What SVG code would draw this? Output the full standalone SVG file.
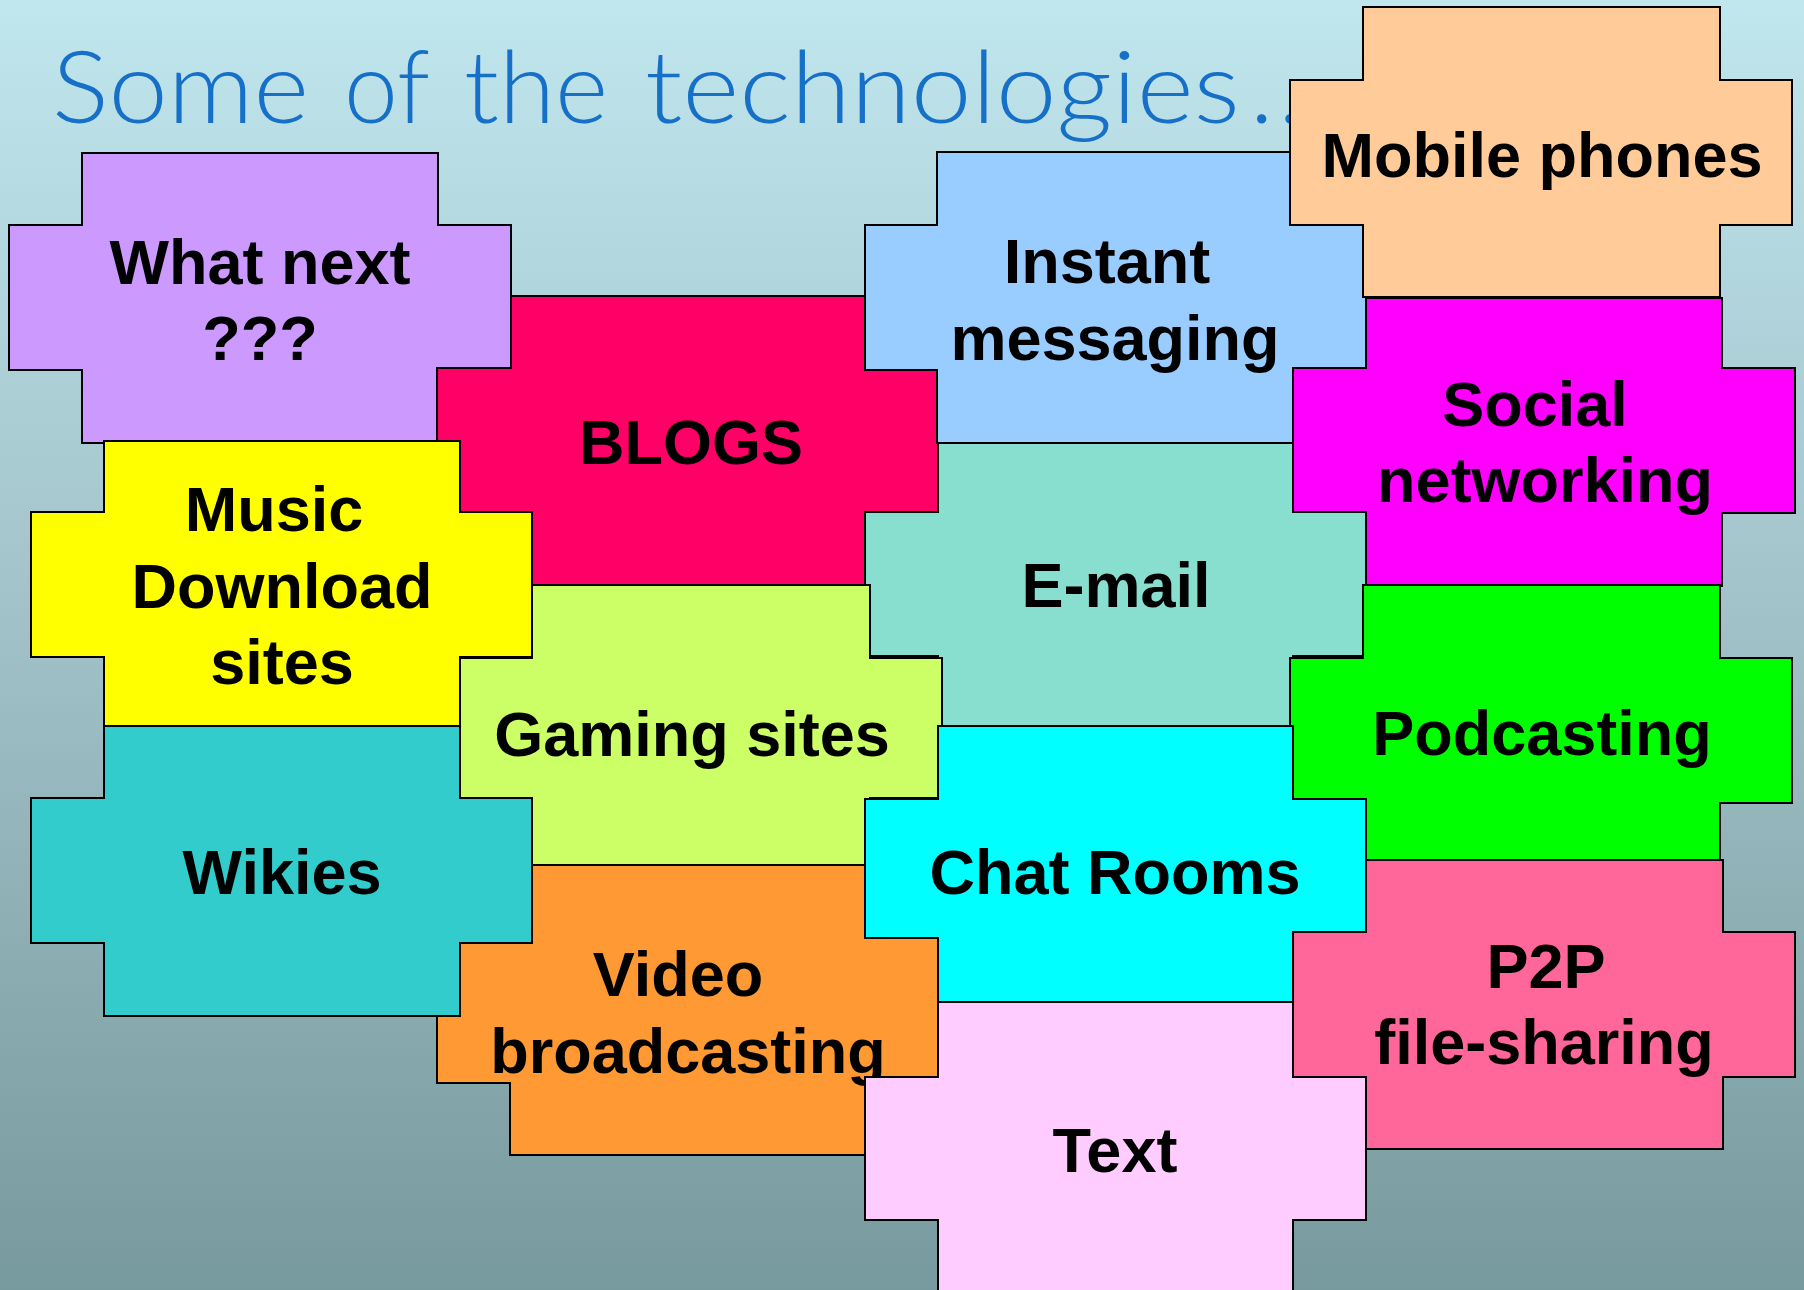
<svg xmlns="http://www.w3.org/2000/svg" width="1804" height="1290" viewBox="0 0 1804 1290">
<defs>
<linearGradient id="bg" x1="0" y1="0" x2="0" y2="1">
<stop offset="0" stop-color="#C0E6EE"/>
<stop offset="0.5" stop-color="#9FC0C6"/>
<stop offset="1" stop-color="#779A9E"/>
</linearGradient>
</defs>
<style>
.s{stroke:#000;stroke-width:2;stroke-linejoin:miter}
.t{font-family:"Liberation Sans",Arial,sans-serif;font-weight:bold;font-size:63px;fill:#000;text-anchor:middle}
.title{font-family:Lato,"Open Sans",sans-serif;font-weight:300;font-size:100px;fill:#1670C8}
</style>
<rect width="1804" height="1290" fill="url(#bg)"/>
<text class="title" y="123"><tspan x="52" textLength="257" lengthAdjust="spacingAndGlyphs">Some</tspan><tspan x="344" textLength="86" lengthAdjust="spacingAndGlyphs">of</tspan><tspan x="464" textLength="144" lengthAdjust="spacingAndGlyphs">the</tspan><tspan x="645" textLength="595" lengthAdjust="spacingAndGlyphs">technologies</tspan><tspan x="1250" textLength="80" lengthAdjust="spacing">...</tspan></text>
<g id="what-next">
<path class="s" fill="#CC99FF" d="M82 153H438V225H511V370H438V443H82V370H9V225H82Z"/>
<text class="t" x="260" y="284">What next</text>
<text class="t" x="260" y="360">???</text>
</g>
<g id="blogs">
<path class="s" fill="#FF0066" d="M511 296H865V368H938V512H865V585H511V512H437V368H511Z"/>
<text class="t" x="691" y="464">BLOGS</text>
</g>
<g id="instant-messaging">
<path class="s" fill="#99CCFF" d="M937 152H1293V225H1366V370H1293V443H937V370H865V225H937Z"/>
<text class="t" x="1107" y="283">Instant</text>
<text class="t" x="1115" y="360">messaging</text>
</g>
<g id="mobile-phones">
<path class="s" fill="#FFCC99" d="M1363 7H1720V80H1792V225H1720V297H1363V225H1290V80H1363Z"/>
<text class="t" x="1542" y="177">Mobile phones</text>
</g>
<g id="social-networking">
<path class="s" fill="#FF00FF" d="M1366 298H1722V368H1795V513H1722V586H1366V513H1293V368H1366Z"/>
<text class="t" x="1535" y="426">Social</text>
<text class="t" x="1545" y="502">networking</text>
</g>
<g id="e-mail">
<path class="s" fill="#88DFD0" d="M938 443H1293V512H1366V656H1293V726H938V656H865V512H938Z"/>
<text class="t" x="1116" y="607">E-mail</text>
</g>
<g id="music-download-sites">
<path class="s" fill="#FFFF00" d="M104 441H460V512H532V657H460V730H104V657H31V512H104Z"/>
<text class="t" x="274" y="531">Music</text>
<text class="t" x="282" y="608">Download</text>
<text class="t" x="282" y="684">sites</text>
</g>
<g id="gaming-sites">
<path class="s" fill="#CCFF66" d="M532 585H870V658H942V798H870V865H532V798H460V658H532Z"/>
<text class="t" x="692" y="756">Gaming sites</text>
</g>
<g id="podcasting">
<path class="s" fill="#00FF00" d="M1363 585H1720V658H1792V803H1720V861H1363V803H1290V658H1363Z"/>
<text class="t" x="1542" y="755">Podcasting</text>
</g>
<g id="chat-rooms">
<path class="s" fill="#00FFFF" d="M938 726H1293V799H1366V938H1293V1010H938V938H865V799H938Z"/>
<text class="t" x="1115" y="894">Chat Rooms</text>
</g>
<g id="video-broadcasting">
<path class="s" fill="#FF9933" d="M510 865H865V938H938V1083H865V1155H510V1083H437V938H510Z"/>
<text class="t" x="678" y="996">Video</text>
<text class="t" x="688" y="1073">broadcasting</text>
</g>
<g id="wikies">
<path class="s" fill="#33CCCC" d="M104 726H460V798H532V943H460V1016H104V943H31V798H104Z"/>
<text class="t" x="282" y="894">Wikies</text>
</g>
<g id="p2p-file-sharing">
<path class="s" fill="#FF6699" d="M1366 860H1723V932H1795V1077H1723V1149H1366V1077H1293V932H1366Z"/>
<text class="t" x="1546" y="988">P2P</text>
<text class="t" x="1544" y="1064">file-sharing</text>
</g>
<g id="text">
<path class="s" fill="#FFCCFF" d="M938 1002H1293V1077H1366V1220H1293V1295H938V1220H865V1077H938Z"/>
<text class="t" x="1115" y="1172">Text</text>
</g>
<g id="connectors"/>
</svg>
